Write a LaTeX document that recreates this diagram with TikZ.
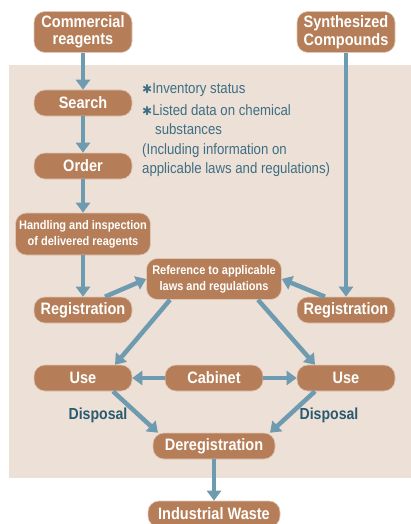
\documentclass[tikz,border=0pt]{standalone}
\usepackage{fontspec}
\setmainfont{Liberation Sans}[FakeStretch=0.88]
\newfontfamily\symfont{DejaVu Sans}
\usetikzlibrary{arrows.meta}
\definecolor{panelbg}{HTML}{EDE0D6}
\definecolor{boxbrown}{HTML}{B57E58}
\definecolor{flowblue}{HTML}{6E9BB0}
\definecolor{noteblue}{HTML}{3D6F84}
\definecolor{labelblue}{HTML}{2B5A70}
\newcommand{\notemark}{{\symfont\bfseries\fontsize{12}{12}\selectfont ✱}}
\tikzset{
  stage/.style={fill=boxbrown, draw=white!55!boxbrown, line width=0.6pt, rounded corners=11pt,
    text=white, font=\bfseries\fontsize{16.5}{17.5}\selectfont, align=center,
    inner sep=0pt, minimum width=98pt, minimum height=26pt},
  wide/.style={font=\bfseries\fontsize{12.5}{16}\selectfont, minimum width=135pt, minimum height=42pt},
  flow/.style={draw=flowblue, line width=4.5pt, -{Triangle[length=10pt,width=14pt]}},
  note/.style={text=noteblue, font=\fontsize{15}{19.5}\selectfont, align=left, anchor=north west, inner sep=0pt},
  disp/.style={text=labelblue, font=\bfseries\fontsize{16}{18}\selectfont}
}
\begin{document}
\begin{tikzpicture}[x=1pt, y=-1pt, node distance=68pt]
\useasboundingbox (0,0) rectangle (411,524);
\fill[panelbg] (9,65) rectangle (411,478);
\node[stage, minimum height=41pt] (comm) at (83,32) {Commercial\\reagents};
\node[stage, minimum height=41pt] (synth) at (346,32) {Synthesized\\Compounds};
\node[stage] (search) at (83,103) {Search};
\node[stage, below of=search, node distance=63pt] (order) {Order};
\node[stage, wide, below of=order] (handle) {Handling and inspection\\of delivered reagents};
\node[stage, below of=handle, node distance=76pt] (regl) {Registration};
\node[stage] (regr) at (346,310) {Registration};
\node[stage, wide, minimum height=41pt] (ref) at (214,279) {Reference to applicable\\laws and regulations};
\node[stage, below of=regl] (usel) {Use};
\node[stage, below of=regr] (user) {Use};
\node[stage] (cab) at (214,378) {Cabinet};
\node[stage, minimum width=122pt] (dereg) at (214,446) {Deregistration};
\node[stage, minimum width=132pt] (waste) at (214,514) {Industrial Waste};
\node[note] (notes) at (142,83) {\notemark Inventory status\\[2pt]
  \notemark Listed data on chemical\\
  \hspace{13pt}substances\\
  (Including information on\\
  applicable laws and regulations)};
\node[disp] (displ) at (98,415) {Disposal};
\node[disp] (dispr) at (329,415) {Disposal};
\draw[flow] (comm) -- (search);
\draw[flow] (search) -- (order);
\draw[flow] (order) -- (handle);
\draw[flow] (handle) -- (regl);
\draw[flow] (synth) -- (regr);
\draw[flow] ([xshift=22pt]regl.north) -- (ref.west);
\draw[flow] ([xshift=-21pt]regr.north) -- (ref.east);
\draw[flow] ([xshift=-44pt]ref.south) -- ([xshift=32pt]usel.north);
\draw[flow] ([xshift=44pt]ref.south) -- ([xshift=-31pt]user.north);
\draw[flow] (cab) -- (usel);
\draw[flow] (cab) -- (user);
\draw[flow] ([xshift=30pt]usel.south) -- ([xshift=-56pt]dereg.north);
\draw[flow] ([xshift=-31pt]user.south) -- ([xshift=56pt]dereg.north);
\draw[flow] (dereg) -- (waste);
\end{tikzpicture}
\end{document}
